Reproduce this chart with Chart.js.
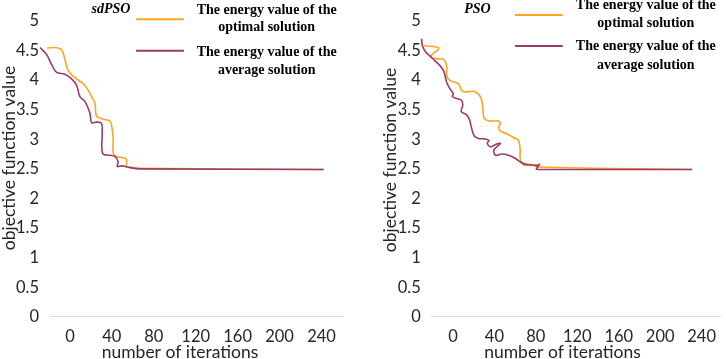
<!DOCTYPE html>
<html>
<head>
<meta charset="utf-8">
<script src="https://cdn.jsdelivr.net/npm/chart.js@4.4.1/dist/chart.umd.min.js"></script>
<style>
  html, body { margin: 0; padding: 0; background: #fff; }
  #wrap { position: relative; width: 726px; height: 359px; }
  .box { position: absolute; top: 0; width: 363px; height: 359px; }
  #boxL { left: 0; }
  #boxR { left: 363px; }
</style>
</head>
<body>
<div id="wrap">
  <div class="box" id="boxL"><canvas id="cL" width="363" height="359"></canvas></div>
  <div class="box" id="boxR"><canvas id="cR" width="363" height="359"></canvas></div>
</div>
<script>
// ---------- data ----------
const xTicks = [0, 40, 80, 120, 160, 200, 240];
const yTicks = [0, 0.5, 1, 1.5, 2, 2.5, 3, 3.5, 4, 4.5, 5];
const panelNames = ['sdPSO', 'PSO'];
const seriesNames = ['The energy value of the optimal solution', 'The energy value of the average solution'];
const legendLines = [['The energy value of the', 'optimal solution'], ['The energy value of the', 'average solution']];
const xTitle = 'number of iterations';
const yTitle = 'objective function value';

// sdPSO - optimal solution
const sdOptIter = [-21.6,-14.3,-7.9,-4.8,-1.6,4.8,12.7,17.4,20.7,23.8,25.5,31.7,38.1,39.8,41.3,41.3,44.5,52.4,54.1,54.1,57.2,66.7,242];
const sdOptVal  = [4.54,4.55,4.51,4.35,4.16,4.04,3.94,3.83,3.72,3.61,3.39,3.34,3.31,3.23,3.01,2.76,2.71,2.68,2.65,2.54,2.53,2.51,2.49];
// sdPSO - average solution
const sdAvgIter = [-28.6,-22.2,-17.4,-12.7,-4.8,1.6,6.4,9.5,14.3,19.1,20.7,25.5,30.2,30.8,31.2,38.1,42.9,46.0,45.1,49.3,57.2,66.7,242];
const sdAvgVal  = [4.55,4.43,4.26,4.13,4.10,4.02,3.91,3.72,3.64,3.44,3.28,3.29,3.27,3.12,2.76,2.73,2.71,2.62,2.54,2.55,2.52,2.50,2.49];
// PSO - optimal solution
const psoOptIter = [-28.0,-13.8,-20.2,-21.8,-15.4,-9.1,-6.0,-6.0,-2.8,5.1,8.2,11.4,19.3,24.1,27.2,28.8,30.0,34.8,42.6,45.8,44.2,45.8,52.1,58.4,63.2,64.8,64.8,66.3,69.5,75.8,80.5,82.1,230.8];
const psoOptVal  = [4.58,4.54,4.43,4.39,4.36,4.35,4.24,4.07,3.99,3.94,3.83,3.80,3.81,3.77,3.69,3.55,3.36,3.31,3.31,3.28,3.20,3.14,3.09,3.03,2.98,2.84,2.68,2.60,2.56,2.56,2.57,2.53,2.49];
// PSO - average solution
const psoAvgIter = [-30.3,-29.6,-26.5,-21.8,-17.0,-12.3,-9.1,-7.6,-6.0,-2.8,0.4,-0.6,3.5,8.2,9.5,8.0,12.7,15.8,17.4,20.5,25.3,30.0,34.8,33.1,36.4,39.5,45.8,39.5,41.1,47.3,53.7,60.0,64.8,69.5,75.8,80.5,83.7,80.5,82.1,230.8];
const psoAvgVal  = [4.70,4.59,4.48,4.40,4.32,4.24,4.16,4.07,3.96,3.85,3.77,3.72,3.69,3.66,3.58,3.47,3.42,3.34,3.23,3.06,3.01,3.01,2.98,2.93,2.87,2.90,2.93,2.82,2.73,2.75,2.73,2.68,2.62,2.58,2.57,2.55,2.58,2.50,2.49,2.49];

// ---------- styles ----------
const ORANGE = '#FFA41F';
const PURPLE = '#9C3A6C';
const TICK_COLOR = '#262626';
const AXIS_FONT = 'Lato';

function pts(xs, ys) { return xs.map((x, i) => ({ x: x, y: ys[i] })); }

const annotPlugin = {
  id: 'annot',
  afterDraw(chart, args, o) {
    const ctx = chart.ctx;
    ctx.save();
    ctx.fillStyle = TICK_COLOR;
    ctx.font = '17.5px ' + AXIS_FONT;
    ctx.textAlign = 'center';
    ctx.textBaseline = 'middle';
    ctx.fillText(xTitle, o.xTitleX, o.xTitleY);
    ctx.save();
    ctx.translate(o.yTitleX, o.yTitleY);
    ctx.rotate(-Math.PI / 2);
    ctx.fillText(yTitle, 0, 0);
    ctx.restore();
    ctx.fillStyle = '#000';
    ctx.font = 'italic bold 14px "Liberation Serif"';
    ctx.fillText(o.panel, o.panelX, o.panelY);
    ctx.font = 'bold 14px "Liberation Serif"';
    const colors = [ORANGE, PURPLE];
    for (let i = 0; i < 2; i++) {
      ctx.strokeStyle = colors[i];
      ctx.lineWidth = 2;
      ctx.beginPath();
      ctx.moveTo(o.legX1, o.legLineY[i]);
      ctx.lineTo(o.legX2, o.legLineY[i]);
      ctx.stroke();
      ctx.fillStyle = '#000';
      legendLines[i].forEach((t, j) => ctx.fillText(t, o.legTextX, o.legTextY[i][j]));
    }
    ctx.restore();
  }
};

function makeChart(id, optX, optY, avgX, avgY, xMin, xMax, yWidth, padRight, annot) {
  return new Chart(document.getElementById(id), {
    type: 'line',
    data: {
      datasets: [
        { label: seriesNames[0], data: pts(optX, optY), borderColor: ORANGE, borderWidth: 1.6,
          pointRadius: 0, tension: 0.35, fill: false, clip: false, order: 2 },
        { label: seriesNames[1], data: pts(avgX, avgY), borderColor: PURPLE, borderWidth: 1.6,
          pointRadius: 0, tension: 0.35, fill: false, clip: false, order: 1 }
      ]
    },
    options: {
      responsive: false,
      animation: false,
      layout: { padding: { top: 11.8, right: padRight, left: 0, bottom: 0 } },
      plugins: { legend: { display: false }, tooltip: { enabled: false }, annot: annot },
      scales: {
        x: {
          type: 'linear', min: xMin, max: xMax,
          afterBuildTicks: s => { s.ticks = xTicks.map(v => ({ value: v })); },
          afterFit: s => { s.height = 359 - 316.8; },
          grid: { display: false, drawTicks: false },
          border: { display: true, color: '#D9D9D9', width: 1 },
          ticks: { color: TICK_COLOR, font: { family: AXIS_FONT, size: 16.5 }, padding: 10, maxRotation: 0, autoSkip: false,
                   callback: v => String(v) }
        },
        y: {
          type: 'linear', min: 0, max: 5,
          afterBuildTicks: s => { s.ticks = yTicks.map(v => ({ value: v })); },
          afterFit: s => { s.width = yWidth; },
          grid: { display: false, drawTicks: false },
          border: { display: false },
          ticks: { color: TICK_COLOR, font: { family: AXIS_FONT, size: 16.5 }, padding: 11, autoSkip: false,
                   callback: v => String(v) }
        }
      }
    },
    plugins: [annotPlugin]
  });
}

makeChart('cL', sdOptIter, sdOptVal, sdAvgIter, sdAvgVal, -19, 260.5, 50, 20, {
  panel: panelNames[0], panelX: 111, panelY: 9,
  xTitleX: 180, xTitleY: 352, yTitleX: 9, yTitleY: 158,
  legX1: 136, legX2: 184, legLineY: [19.3, 50.7],
  legTextX: 266.7, legTextY: [[10, 27.3], [52.7, 70.7]]
});
makeChart('cR', psoOptIter, psoOptVal, psoAvgIter, psoAvgVal, -20.5, 258.2, 68.7, 0, {
  panel: panelNames[1], panelX: 114.5, panelY: 9.3,
  xTitleX: 199.5, xTitleY: 352, yTitleX: 27, yTitleY: 160,
  legX1: 152, legX2: 199.7, legLineY: [15, 46],
  legTextX: 282.8, legTextY: [[5.5, 23.3], [46.7, 65]]
});
</script>
</body>
</html>
